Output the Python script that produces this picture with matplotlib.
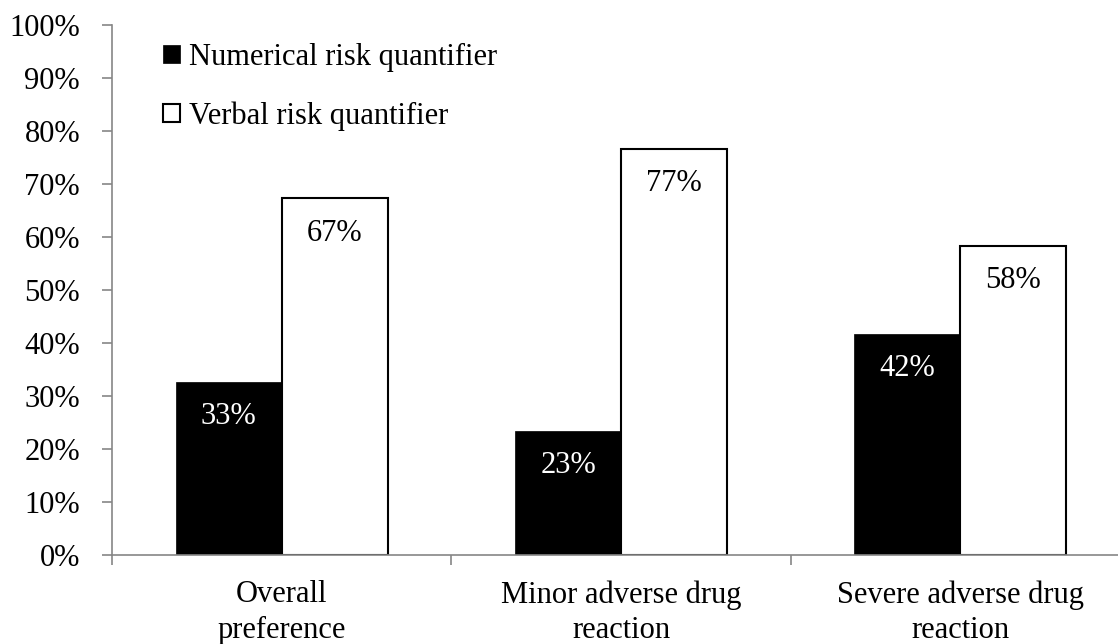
import matplotlib.pyplot as plt
import numpy as np

categories = ["Overall\npreference", "Minor adverse drug\nreaction", "Severe adverse drug\nreaction"]
numerical = [32.7, 23.4, 41.7]
verbal = [67.3, 76.6, 58.3]
numerical_labels = ["33%", "23%", "42%"]
verbal_labels = ["67%", "77%", "58%"]
series_names = ["Numerical risk quantifier", "Verbal risk quantifier"]

plt.rcParams["font.family"] = ["Liberation Serif", "DejaVu Serif"]
fs = 22

fig = plt.figure(figsize=(11.18, 6.44), dpi=100)
W, H = 1118, 644
ax = fig.add_axes([112 / W, (H - 555) / H, (1130 - 112) / W, (555 - 25) / H])

x = np.arange(len(categories))
w = 0.312
b1 = ax.bar(x - w / 2, numerical, w, color="black", edgecolor="black", linewidth=0.5, label=series_names[0])
b2 = ax.bar(x + w / 2, verbal, w, color="white", edgecolor="black", linewidth=1.5, label=series_names[1])

for rect, lab in zip(b1, numerical_labels):
    ax.annotate(lab, (rect.get_x() + rect.get_width() / 2, rect.get_height()),
                xytext=(0, -25), textcoords="offset points", ha="center", va="center",
                color="white", fontsize=fs)
for rect, lab in zip(b2, verbal_labels):
    ax.annotate(lab, (rect.get_x() + rect.get_width() / 2, rect.get_height()),
                xytext=(0, -25), textcoords="offset points", ha="center", va="center",
                color="black", fontsize=fs)

ax.set_xlim(-0.5, len(categories) - 0.5)
ax.set_ylim(0, 100)
ax.set_yticks(np.arange(0, 101, 10))
ax.set_yticklabels([f"{v}%" for v in range(0, 101, 10)], fontsize=fs)
ax.set_xticks(x)
ax.set_xticklabels(categories, fontsize=fs, linespacing=1.3)
ax.set_xticks(np.arange(-0.5, len(categories)), minor=True)
ax.tick_params(axis="x", which="major", length=0, pad=18)
ax.tick_params(axis="x", which="minor", length=7, color="#868686", width=1.2)
ax.tick_params(axis="y", length=7, color="#868686", width=1.2, pad=16)

for s in ["top", "right"]:
    ax.spines[s].set_visible(False)
for s in ["left", "bottom"]:
    ax.spines[s].set_color("#868686")
    ax.spines[s].set_linewidth(1.2)

leg = ax.legend(loc="upper left", bbox_to_anchor=(163 / W, (H - 43) / H), bbox_transform=fig.transFigure,
                frameon=False, fontsize=fs, handlelength=0.55, handleheight=0.55,
                handletextpad=0.3, labelspacing=0.95, borderpad=0, borderaxespad=0)

fig.savefig("out.png", dpi=100)
